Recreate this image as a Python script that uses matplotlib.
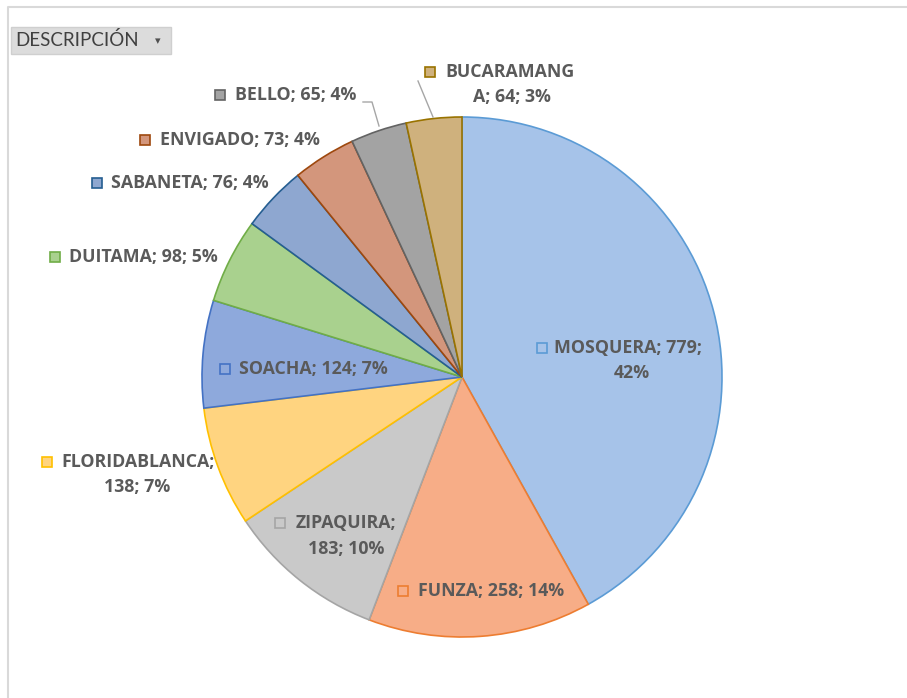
import matplotlib
matplotlib.use('Agg')
from matplotlib import pyplot as plt
from matplotlib.patches import Rectangle

# municipalities, counts and the percentages shown on the labels
names = ['MOSQUERA', 'FUNZA', 'ZIPAQUIRA', 'FLORIDABLANCA', 'SOACHA',
         'DUITAMA', 'SABANETA', 'ENVIGADO', 'BELLO', 'BUCARAMANGA']
counts = [779, 258, 183, 138, 124, 98, 76, 73, 65, 64]
pcts = [42, 14, 10, 7, 7, 5, 4, 4, 4, 3]

fills = ['#a6c3e9', '#f7ad87', '#c9c9c9', '#ffd480', '#8ea9dc',
         '#a9d18e', '#8ea7d0', '#d3967c', '#a3a3a3', '#cfb17d']
edges = ['#5b9bd5', '#ed7d31', '#a5a5a5', '#ffc000', '#4472c4',
         '#70ad47', '#255e91', '#9e480e', '#636363', '#997300']

W, H = 907, 698
CX, CY, R = 462, 377, 260
TXT = '#5a5a5a'
FS = 12.8

# label layout: square x, line y, text x, chars on line 1, line 2 centre x
lab_pos = {
    'MOSQUERA':      (542, 348, 554, 14, 632),
    'FUNZA':         (403, 591, 418, None, None),
    'ZIPAQUIRA':     (280, 523, 296, 10, 346),
    'FLORIDABLANCA': (47, 462, 61, 14, 137),
    'SOACHA':        (225, 369, 239, None, None),
    'DUITAMA':       (55, 257, 69, None, None),
    'SABANETA':      (97, 183, 111, None, None),
    'ENVIGADO':      (145, 140, 160, None, None),
    'BELLO':         (220, 95, 235, None, None),
    'BUCARAMANGA':   (430, 72, 445, 10, 512),
}

plt.rcParams['font.family'] = ['Open Sans', 'DejaVu Sans']

fig = plt.figure(figsize=(W / 100, H / 100), dpi=100)
ax = fig.add_axes([0, 0, 1, 1])

def y(v):
    # pixel rows run downward, the axes run upward
    return H - v

ax.pie(counts, colors=fills, startangle=90, counterclock=False,
       center=(CX, y(CY)), radius=R, frame=True,
       wedgeprops=dict(linewidth=1.2))
for w, ec in zip(ax.patches, edges):
    w.set_edgecolor(ec)
ax.set_xlim(0, W)
ax.set_ylim(0, H)
ax.set_aspect('equal')
ax.axis('off')

# chart area frame
ax.plot([8, 8, W], [y(H), y(7), y(7)], color='#d9d9d9', lw=1.5)

# data labels with the small colour key
for name, v, p, fc, ec in zip(names, counts, pcts, fills, edges):
    sx, sy, tx, brk, cx2 = lab_pos[name]
    full = f'{name}; {v}; {p}%'
    ax.add_patch(Rectangle((sx - 5, y(sy) - 5), 10, 10, facecolor=fc,
                           edgecolor=ec, lw=1.2, zorder=5))
    kw = dict(color=TXT, fontsize=FS, fontweight='bold', va='center')
    if brk is None:
        ax.text(tx, y(sy), full, ha='left', **kw)
    else:
        ax.text(tx, y(sy), full[:brk].strip(), ha='left', **kw)
        ax.text(cx2, y(sy + 25.5), full[brk:].strip(), ha='center', **kw)

# leader lines for the two thin slices at the top
ax.plot([418, 433], [y(81), y(117)], color='#a6a6a6', lw=1)
ax.plot([363, 372, 379], [y(102), y(102), y(126)], color='#a6a6a6', lw=1)

# field button
ax.add_patch(Rectangle((11, y(54)), 160, 27, facecolor='#dcdcdc',
                       edgecolor='#cfcfcf', lw=1))
ax.text(15, y(40), 'DESCRIPCIÓN', ha='left', va='center', color='#404040',
        fontsize=13.5, family=['Lato', 'DejaVu Sans'])
ax.text(158, y(41), '▾', ha='center', va='center', color='#505050',
        fontsize=8, family=['DejaVu Sans'])

fig.savefig('out.png', dpi=100)
